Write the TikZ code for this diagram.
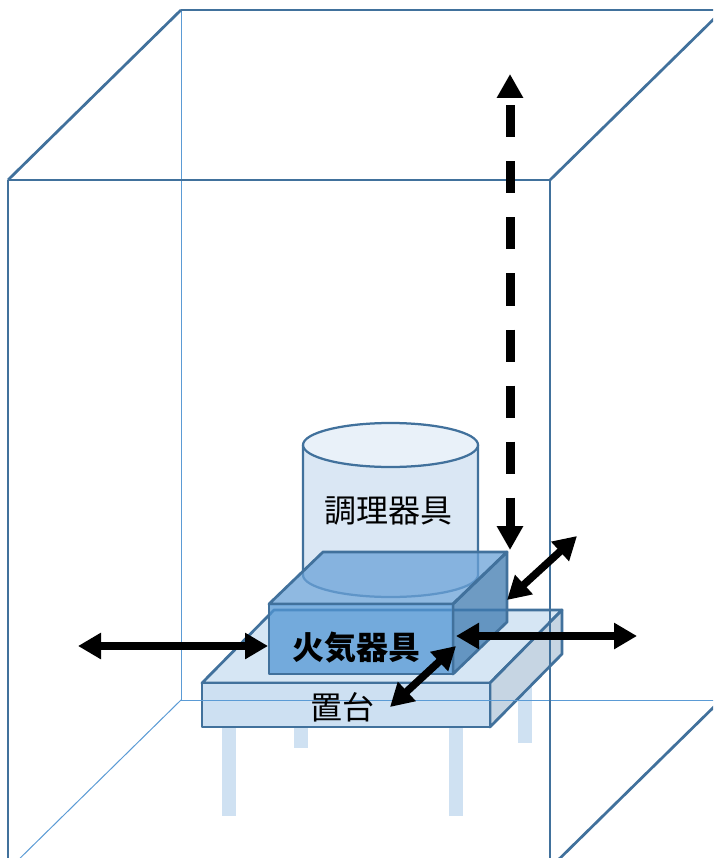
\documentclass[tikz,border=0pt]{standalone}
\usepackage{fontspec}
\newfontfamily\jp{Noto Sans CJK JP}
\usetikzlibrary{arrows.meta}
\definecolor{boxline}{RGB}{65,113,156}
\definecolor{thinline}{RGB}{91,155,213}
\definecolor{legcol}{RGB}{207,225,242}
\definecolor{standtop}{RGB}{214,230,244}
\definecolor{standfront}{RGB}{205,224,242}
\definecolor{standright}{RGB}{198,213,227}
\definecolor{cylbody}{RGB}{218,231,244}
\definecolor{cyltop}{RGB}{233,241,249}
\definecolor{stovetop}{RGB}{106,162,216}
\definecolor{stovefront}{RGB}{82,150,212}
\definecolor{stoveright}{RGB}{62,122,176}
\begin{document}
\begin{tikzpicture}[x=1pt,y=-1pt,
  frontedge/.style={draw=boxline,line width=2.75pt},
  hiddenedge/.style={draw=thinline,line width=1pt},
  legbar/.style={fill=legcol},
  solidface/.style={draw=boxline,line width=2.75pt,line join=round},
  glassface/.style={draw=boxline,line width=2.75pt,line join=round,fill opacity=0.75},
  cylline/.style={draw=boxline,line width=2.25pt},
  dblarrow/.style={line width=7.5pt,{Triangle[length=23pt,width=25pt]}-{Triangle[length=23pt,width=25pt]}},
  dasharrow/.style={line width=9pt,dash pattern=on 32pt off 24pt,dash phase=47pt,{Triangle[length=24pt,width=25pt]}-{Triangle[length=24pt,width=25pt]}},
  lbl/.style={font=\jp\fontsize{32pt}{32pt}\selectfont,inner sep=0pt}]
\useasboundingbox (0,0) rectangle (713,858);
\clip (0,0) rectangle (713,858);
\fill[white] (0,0) rectangle (713,858);
% legs of the stand
\fill[legbar] (222,720) rectangle (236,816);
\fill[legbar] (294,720) rectangle (308,748);
\fill[legbar] (449,720) rectangle (463,816);
\fill[legbar] (518,680) rectangle (532,743);
% stand
\path[solidface,fill=standtop] (202,683) -- (274,610) -- (562,610) -- (490,683) -- cycle;
\path[solidface,fill=standright] (490,683) -- (562,610) -- (562,654) -- (490,727) -- cycle;
\path[solidface,fill=standfront] (202,683) -- (490,683) -- (490,727) -- (202,727) -- cycle;
% outer box: hidden edges
\draw[hiddenedge] (181,10) -- (181,700);
\draw[hiddenedge] (181,700) -- (730,700);
\draw[hiddenedge] (181,700) -- (8,870);
% outer box: visible edges
\draw[frontedge] (8,180) -- (550,180);
\draw[frontedge] (8,180) -- (8,870);
\draw[frontedge] (550,180) -- (550,870);
\draw[frontedge] (181,10) -- (730,10);
\draw[frontedge] (8,180) -- (181,10);
\draw[frontedge] (550,180) -- (723,10);
\draw[frontedge] (550,868) -- (723,698);
% cylinder (cooking utensil)
\fill[cylbody] (303,445) rectangle (478,575);
\fill[cylbody] (390.5,575) ellipse [x radius=87.5, y radius=22];
\draw[cylline] (303,445) -- (303,575) arc[start angle=180,end angle=0,x radius=87.5,y radius=22] -- (478,445);
\path[cylline,fill=cyltop] (390.5,445) ellipse [x radius=87.5, y radius=22];
% stove
\path[glassface,fill=stovetop] (269,604) -- (323,552) -- (507,552) -- (453,604) -- cycle;
\path[glassface,fill=stoveright] (453,604) -- (507,552) -- (507,622) -- (453,674) -- cycle;
\path[glassface,fill=stovefront] (269,604) -- (453,604) -- (453,674) -- (269,674) -- cycle;
% labels
\node[lbl] (pot) at (388,511) {調理器具};
\node[lbl,font=\jp\bfseries\fontsize{32pt}{32pt}\selectfont] (stove) at (356,648) {火気器具};
\node[lbl] (stand) at (342,707) {置台};
% arrow end points
\coordinate (upT) at (510,74);
\coordinate (upB) at (510,550);
\coordinate (lA) at (78,646);
\coordinate (lB) at (268,646);
\coordinate (rA) at (456,636);
\coordinate (rB) at (637,636);
\coordinate (d1A) at (507,600);
\coordinate (d1B) at (577,536);
\coordinate (d2A) at (456,646);
\coordinate (d2B) at (390,707);
% arrows
\draw[dasharrow] (upT) -- (upB);
\draw[dblarrow] (lA) -- (lB);
\draw[dblarrow] (rA) -- (rB);
\draw[dblarrow] (d1A) -- (d1B);
\draw[dblarrow] (d2A) -- (d2B);
\end{tikzpicture}
\end{document}
